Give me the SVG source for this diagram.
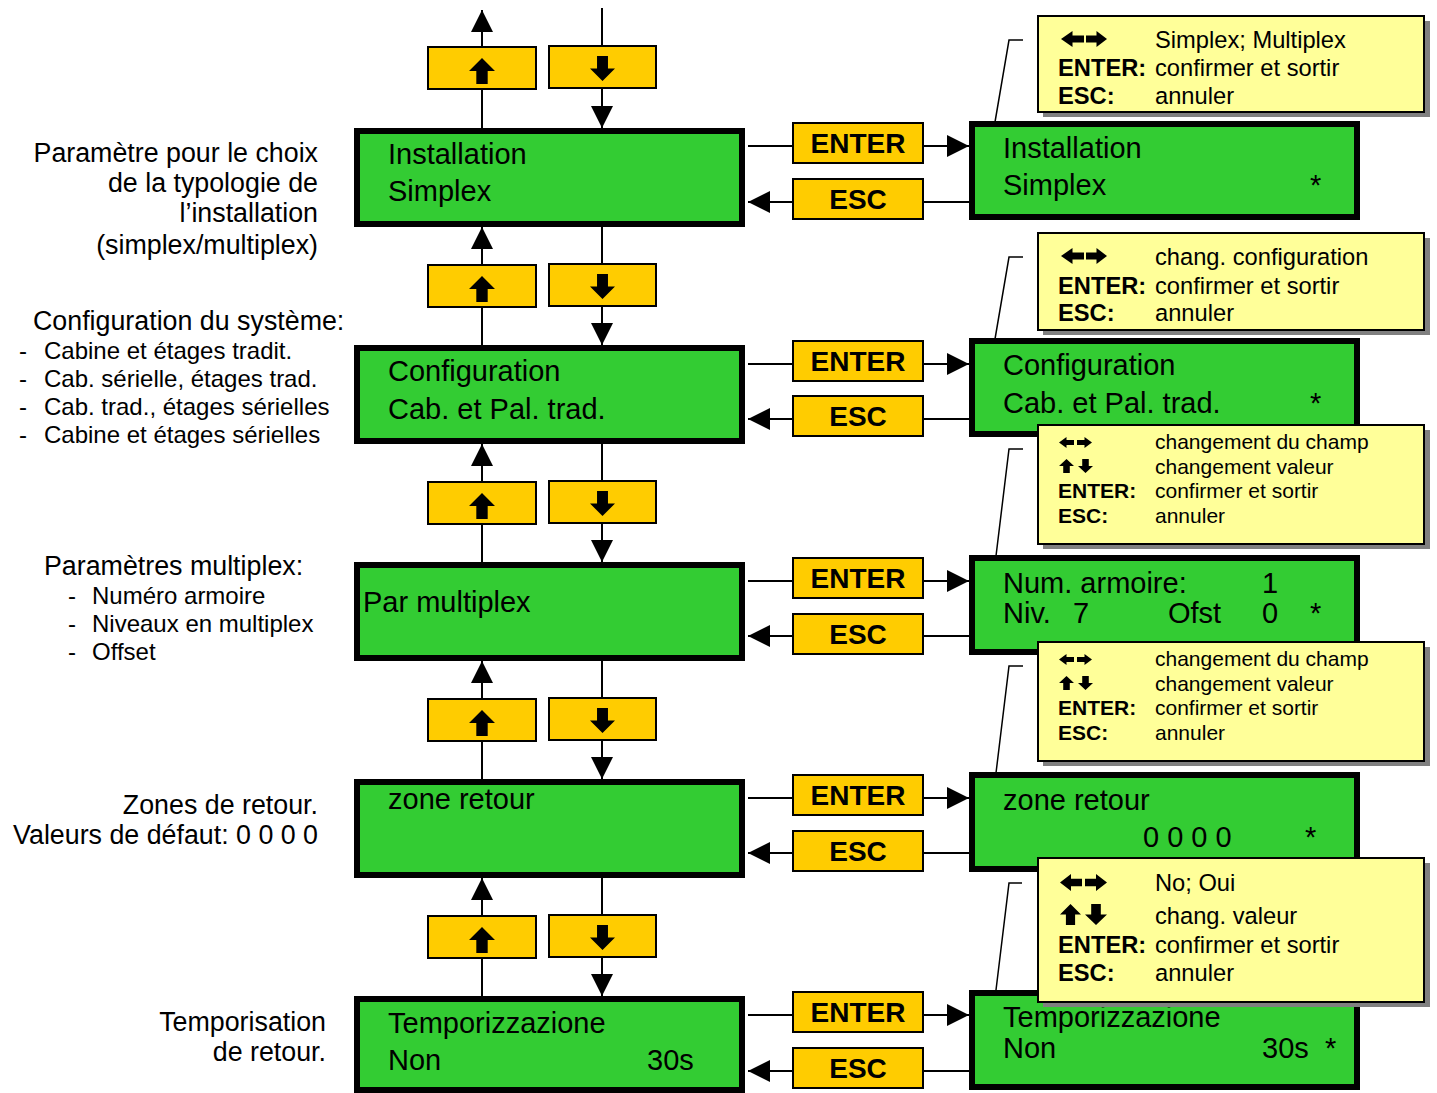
<svg xmlns="http://www.w3.org/2000/svg" xmlns:xlink="http://www.w3.org/1999/xlink" width="1437" height="1093" viewBox="0 0 1437 1093">
  <style>
    text { font-family: "Liberation Sans", Arial, sans-serif; fill: #000; }
    .scr { fill: #33CC33; stroke: #000; stroke-width: 6; }
    .btn { fill: #FFCC00; stroke: #000; stroke-width: 2; }
    .note { fill: #FFFF99; stroke: #000; stroke-width: 2; }
    .shadow { fill: #808080; }
    .lcd { font-size: 29px; }
    .key { font-size: 28px; font-weight: bold; }
    .lbl { font-size: 26.8px; }
    .item { font-size: 24px; }
    .n1 { font-size: 23.7px; }
    .n2 { font-size: 21px; }
    .b { font-weight: bold; }
    .wire { stroke: #000; stroke-width: 2; fill: none; }
    .arr { marker-end: url(#head); }
    .lead { stroke: #000; stroke-width: 1.5; fill: none; }
    .ico { fill: #000; }
  </style>
  <defs>
    <marker id="head" markerUnits="userSpaceOnUse" markerWidth="22" markerHeight="22" viewBox="0 0 20 20" refX="20" refY="10" orient="auto">
      <path d="M0,0 L20,10 L0,20 Z" fill="#000"/>
    </marker>
    <symbol id="arR" viewBox="0 0 20 16" preserveAspectRatio="none"><polygon points="0,4.5 10,4.5 10,0 20,8 10,16 10,11.5 0,11.5"/></symbol>
    <symbol id="arL" viewBox="0 0 20 16" preserveAspectRatio="none"><polygon points="20,4.5 10,4.5 10,0 0,8 10,16 10,11.5 20,11.5"/></symbol>
    <symbol id="arU" viewBox="0 0 16 20" preserveAspectRatio="none"><polygon points="4.5,20 4.5,10 0,10 8,0 16,10 11.5,10 11.5,20"/></symbol>
    <symbol id="arD" viewBox="0 0 16 20" preserveAspectRatio="none"><polygon points="4.5,0 4.5,10 0,10 8,20 16,10 11.5,10 11.5,0"/></symbol>
  </defs>

  <rect width="1437" height="1093" fill="#fff"/>

  <!-- connectors -->
  <g id="connectors">
    <!-- vertical navigation -->
    <line class="wire arr" x1="482" y1="128" x2="482" y2="10"/>
    <line class="wire arr" x1="602" y1="8" x2="602" y2="128"/>
    <line class="wire arr" x1="482" y1="345" x2="482" y2="227"/>
    <line class="wire arr" x1="602" y1="226" x2="602" y2="345"/>
    <line class="wire arr" x1="482" y1="562" x2="482" y2="444"/>
    <line class="wire arr" x1="602" y1="443" x2="602" y2="562"/>
    <line class="wire arr" x1="482" y1="779" x2="482" y2="661"/>
    <line class="wire arr" x1="602" y1="660" x2="602" y2="779"/>
    <line class="wire arr" x1="482" y1="996" x2="482" y2="878"/>
    <line class="wire arr" x1="602" y1="877" x2="602" y2="996"/>
    <!-- ENTER / ESC -->
    <line class="wire arr" x1="748" y1="146" x2="969" y2="146"/>
    <line class="wire arr" x1="969" y1="202" x2="748" y2="202"/>
    <line class="wire arr" x1="748" y1="364" x2="969" y2="364"/>
    <line class="wire arr" x1="969" y1="419" x2="748" y2="419"/>
    <line class="wire arr" x1="748" y1="581" x2="969" y2="581"/>
    <line class="wire arr" x1="969" y1="636" x2="748" y2="636"/>
    <line class="wire arr" x1="748" y1="798" x2="969" y2="798"/>
    <line class="wire arr" x1="969" y1="853" x2="748" y2="853"/>
    <line class="wire arr" x1="748" y1="1015" x2="969" y2="1015"/>
    <line class="wire arr" x1="969" y1="1071" x2="748" y2="1071"/>
    <!-- callout leaders -->
    <polyline class="lead" points="1023,40 1009,40 995,122"/>
    <polyline class="lead" points="1023,257 1009,257 995,339"/>
    <polyline class="lead" points="1023,449 1009,449 996,556"/>
    <polyline class="lead" points="1023,666 1009,666 996,773"/>
    <polyline class="lead" points="1022,883 1009,883 996,990"/>
  </g>

  <!-- navigation buttons -->
  <g id="nav-up-1"><rect class="btn" x="428" y="47" width="108" height="42"/><use href="#arU" x="469" y="58" width="26" height="26"/></g>
  <g id="nav-down-1"><rect class="btn" x="549" y="46" width="107" height="42"/><use href="#arD" x="590" y="56" width="25" height="25"/></g>
  <g id="nav-up-2"><rect class="btn" x="428" y="265" width="108" height="42"/><use href="#arU" x="469" y="276" width="26" height="26"/></g>
  <g id="nav-down-2"><rect class="btn" x="549" y="264" width="107" height="42"/><use href="#arD" x="590" y="274" width="25" height="25"/></g>
  <g id="nav-up-3"><rect class="btn" x="428" y="482" width="108" height="42"/><use href="#arU" x="469" y="493" width="26" height="26"/></g>
  <g id="nav-down-3"><rect class="btn" x="549" y="481" width="107" height="42"/><use href="#arD" x="590" y="491" width="25" height="25"/></g>
  <g id="nav-up-4"><rect class="btn" x="428" y="699" width="108" height="42"/><use href="#arU" x="469" y="710" width="26" height="26"/></g>
  <g id="nav-down-4"><rect class="btn" x="549" y="698" width="107" height="42"/><use href="#arD" x="590" y="708" width="25" height="25"/></g>
  <g id="nav-up-5"><rect class="btn" x="428" y="916" width="108" height="42"/><use href="#arU" x="469" y="927" width="26" height="26"/></g>
  <g id="nav-down-5"><rect class="btn" x="549" y="915" width="107" height="42"/><use href="#arD" x="590" y="925" width="25" height="25"/></g>

  <!-- ENTER / ESC keys -->
  <g id="key-enter-1"><rect class="btn" x="793" y="123" width="130" height="40"/><text class="key" x="858" y="153" text-anchor="middle">ENTER</text></g>
  <g id="key-esc-1"><rect class="btn" x="793" y="179" width="130" height="40"/><text class="key" x="858" y="209" text-anchor="middle">ESC</text></g>
  <g id="key-enter-2"><rect class="btn" x="793" y="341" width="130" height="40"/><text class="key" x="858" y="371" text-anchor="middle">ENTER</text></g>
  <g id="key-esc-2"><rect class="btn" x="793" y="396" width="130" height="40"/><text class="key" x="858" y="426" text-anchor="middle">ESC</text></g>
  <g id="key-enter-3"><rect class="btn" x="793" y="558" width="130" height="40"/><text class="key" x="858" y="588" text-anchor="middle">ENTER</text></g>
  <g id="key-esc-3"><rect class="btn" x="793" y="614" width="130" height="40"/><text class="key" x="858" y="644" text-anchor="middle">ESC</text></g>
  <g id="key-enter-4"><rect class="btn" x="793" y="775" width="130" height="40"/><text class="key" x="858" y="805" text-anchor="middle">ENTER</text></g>
  <g id="key-esc-4"><rect class="btn" x="793" y="831" width="130" height="40"/><text class="key" x="858" y="861" text-anchor="middle">ESC</text></g>
  <g id="key-enter-5"><rect class="btn" x="793" y="992" width="130" height="40"/><text class="key" x="858" y="1022" text-anchor="middle">ENTER</text></g>
  <g id="key-esc-5"><rect class="btn" x="793" y="1048" width="130" height="40"/><text class="key" x="858" y="1078" text-anchor="middle">ESC</text></g>

  <!-- menu screens -->
  <g id="menu-installation"><rect class="scr" x="357" y="131" width="385" height="93"/>
    <text class="lcd" x="388" y="164">Installation</text><text class="lcd" x="388" y="201">Simplex</text></g>
  <g id="menu-configuration"><rect class="scr" x="357" y="348" width="385" height="93"/>
    <text class="lcd" x="388" y="381">Configuration</text><text class="lcd" x="388" y="419">Cab. et Pal. trad.</text></g>
  <g id="menu-multiplex"><rect class="scr" x="357" y="565" width="385" height="93"/>
    <text class="lcd" x="363" y="612">Par multiplex</text></g>
  <g id="menu-zone"><rect class="scr" x="357" y="782" width="385" height="93"/>
    <text class="lcd" x="388" y="809">zone retour</text></g>
  <g id="menu-tempo"><rect class="scr" x="357" y="999" width="385" height="91"/>
    <text class="lcd" x="388" y="1033">Temporizzazione</text><text class="lcd" x="388" y="1070">Non</text><text class="lcd" x="647" y="1070">30s</text></g>

  <!-- edit screens -->
  <g id="edit-installation"><rect class="scr" x="972" y="124" width="385" height="93"/>
    <text class="lcd" x="1003" y="158">Installation</text><text class="lcd" x="1003" y="195">Simplex</text><text class="lcd" x="1310" y="195">*</text></g>
  <g id="edit-configuration"><rect class="scr" x="972" y="341" width="385" height="93"/>
    <text class="lcd" x="1003" y="375">Configuration</text><text class="lcd" x="1003" y="413">Cab. et Pal. trad.</text><text class="lcd" x="1310" y="413">*</text></g>
  <g id="edit-multiplex"><rect class="scr" x="972" y="558" width="385" height="94"/>
    <text class="lcd" x="1003" y="593">Num. armoire:</text><text class="lcd" x="1262" y="593">1</text>
    <text class="lcd" x="1003" y="623">Niv.</text><text class="lcd" x="1073" y="623">7</text><text class="lcd" x="1168" y="623">Ofst</text><text class="lcd" x="1262" y="623">0</text><text class="lcd" x="1310" y="623">*</text></g>
  <g id="edit-zone"><rect class="scr" x="972" y="775" width="385" height="94"/>
    <text class="lcd" x="1003" y="810">zone retour</text><text class="lcd" x="1143" y="847" xml:space="preserve">0 0 0 0</text><text class="lcd" x="1305" y="847">*</text></g>
  <g id="edit-tempo"><rect class="scr" x="972" y="993" width="385" height="94"/>
    <text class="lcd" x="1003" y="1027">Temporizzazione</text><text class="lcd" x="1003" y="1058">Non</text><text class="lcd" x="1262" y="1058">30s</text><text class="lcd" x="1325" y="1058">*</text></g>

  <!-- help callouts -->
  <g id="help-installation">
    <rect class="shadow" x="1043" y="21" width="387" height="96"/>
    <rect class="note" x="1038" y="16" width="386" height="96"/>
    <use class="ico" href="#arL" x="1061" y="31" width="23" height="16"/><use class="ico" href="#arR" x="1086" y="31" width="21" height="16"/>
    <text class="n1" x="1155" y="48">Simplex; Multiplex</text>
    <text class="n1 b" x="1058" y="76">ENTER:</text><text class="n1" x="1155" y="76">confirmer et sortir</text>
    <text class="n1 b" x="1058" y="104">ESC:</text><text class="n1" x="1155" y="104">annuler</text>
  </g>
  <g id="help-configuration">
    <rect class="shadow" x="1043" y="238" width="387" height="97"/>
    <rect class="note" x="1038" y="233" width="386" height="97"/>
    <use class="ico" href="#arL" x="1061" y="248" width="23" height="16"/><use class="ico" href="#arR" x="1086" y="248" width="21" height="16"/>
    <text class="n1" x="1155" y="265">chang. configuration</text>
    <text class="n1 b" x="1058" y="294">ENTER:</text><text class="n1" x="1155" y="294">confirmer et sortir</text>
    <text class="n1 b" x="1058" y="321">ESC:</text><text class="n1" x="1155" y="321">annuler</text>
  </g>
  <g id="help-multiplex">
    <rect class="shadow" x="1043" y="430" width="387" height="119"/>
    <rect class="note" x="1038" y="425" width="386" height="119"/>
    <use class="ico" href="#arL" x="1059" y="437" width="15" height="11"/><use class="ico" href="#arR" x="1077" y="437" width="15" height="11"/>
    <use class="ico" href="#arU" x="1059" y="459" width="15" height="14"/><use class="ico" href="#arD" x="1078" y="459" width="15" height="14"/>
    <text class="n2" x="1155" y="449">changement du champ</text>
    <text class="n2" x="1155" y="474">changement valeur</text>
    <text class="n2 b" x="1058" y="498">ENTER:</text><text class="n2" x="1155" y="498">confirmer et sortir</text>
    <text class="n2 b" x="1058" y="523">ESC:</text><text class="n2" x="1155" y="523">annuler</text>
  </g>
  <g id="help-zone">
    <rect class="shadow" x="1043" y="647" width="387" height="119"/>
    <rect class="note" x="1038" y="642" width="386" height="119"/>
    <use class="ico" href="#arL" x="1059" y="654" width="15" height="11"/><use class="ico" href="#arR" x="1077" y="654" width="15" height="11"/>
    <use class="ico" href="#arU" x="1059" y="676" width="15" height="14"/><use class="ico" href="#arD" x="1078" y="676" width="15" height="14"/>
    <text class="n2" x="1155" y="666">changement du champ</text>
    <text class="n2" x="1155" y="691">changement valeur</text>
    <text class="n2 b" x="1058" y="715">ENTER:</text><text class="n2" x="1155" y="715">confirmer et sortir</text>
    <text class="n2 b" x="1058" y="740">ESC:</text><text class="n2" x="1155" y="740">annuler</text>
  </g>
  <g id="help-tempo">
    <rect class="shadow" x="1043" y="863" width="387" height="144"/>
    <rect class="note" x="1038" y="858" width="386" height="144"/>
    <use class="ico" href="#arL" x="1060" y="874" width="22" height="17"/><use class="ico" href="#arR" x="1085" y="874" width="22" height="17"/>
    <use class="ico" href="#arU" x="1060" y="904" width="21" height="21"/><use class="ico" href="#arD" x="1085" y="904" width="22" height="21"/>
    <text class="n1" x="1155" y="891">No; Oui</text>
    <text class="n1" x="1155" y="924">chang. valeur</text>
    <text class="n1 b" x="1058" y="953">ENTER:</text><text class="n1" x="1155" y="953">confirmer et sortir</text>
    <text class="n1 b" x="1058" y="981">ESC:</text><text class="n1" x="1155" y="981">annuler</text>
  </g>

  <!-- side descriptions -->
  <g id="desc-installation" class="lbl" text-anchor="end">
    <text x="318" y="162">Paramètre pour le choix</text>
    <text x="318" y="192">de la typologie de</text>
    <text x="318" y="222">l’installation</text>
    <text x="318" y="254">(simplex/multiplex)</text>
  </g>
  <g id="desc-configuration">
    <text class="lbl" x="33" y="330">Configuration du système:</text>
    <text class="item" x="19" y="359">-</text><text class="item" x="44" y="359">Cabine et étages tradit.</text>
    <text class="item" x="19" y="387">-</text><text class="item" x="44" y="387">Cab. sérielle, étages trad.</text>
    <text class="item" x="19" y="415">-</text><text class="item" x="44" y="415">Cab. trad., étages sérielles</text>
    <text class="item" x="19" y="443">-</text><text class="item" x="44" y="443">Cabine et étages sérielles</text>
  </g>
  <g id="desc-multiplex">
    <text class="lbl" x="44" y="575">Paramètres multiplex:</text>
    <text class="item" x="68" y="604">-</text><text class="item" x="92" y="604">Numéro armoire</text>
    <text class="item" x="68" y="632">-</text><text class="item" x="92" y="632">Niveaux en multiplex</text>
    <text class="item" x="68" y="660">-</text><text class="item" x="92" y="660">Offset</text>
  </g>
  <g id="desc-zone" class="lbl" text-anchor="end">
    <text x="318" y="814">Zones de retour.</text>
    <text x="318" y="844">Valeurs de défaut: 0 0 0 0</text>
  </g>
  <g id="desc-tempo" class="lbl" text-anchor="end">
    <text x="326" y="1031">Temporisation</text>
    <text x="326" y="1061">de retour.</text>
  </g>
</svg>
